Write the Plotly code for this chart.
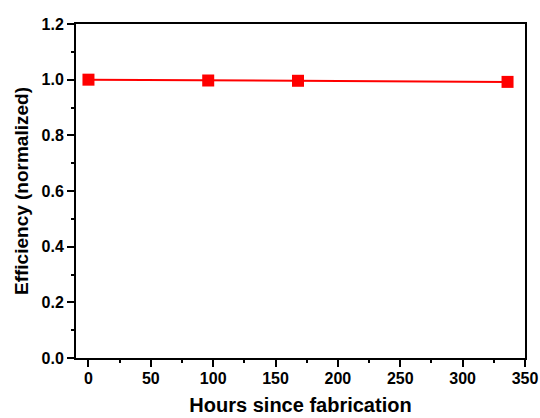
import plotly.graph_objects as go

hours = [0, 96, 168, 336]
efficiency = [1.0, 0.997, 0.996, 0.992]

fig = go.Figure()
fig.add_trace(go.Scatter(
    x=hours, y=efficiency, mode="lines+markers",
    line=dict(color="#ff0000", width=2),
    marker=dict(symbol="square", size=12, color="#ff0000"),
    showlegend=False,
))

font_family = "Liberation Sans, Arial, sans-serif"
axis_common = dict(
    showline=True, linecolor="black", linewidth=2, mirror=True,
    ticks="outside", ticklen=7, tickwidth=2, tickcolor="black",
    showgrid=False, zeroline=False, automargin=False,
    tickfont=dict(family=font_family, size=16, color="black", weight="bold"),
    minor=dict(ticks="outside", ticklen=3, tickwidth=2, tickcolor="black", showgrid=False),
)

fig.update_xaxes(
    range=[-10, 350], tickvals=[0, 50, 100, 150, 200, 250, 300, 350],
    minor_dtick=25, minor_tick0=0,
    ticklabelstandoff=-2,
    title=dict(text="<b>Hours since fabrication</b>", font=dict(family=font_family, size=20, color="black"), standoff=12),
    **axis_common,
)
fig.update_yaxes(
    range=[0, 1.2], dtick=0.2, tickformat=".1f",
    minor_dtick=0.1,
    title=dict(text="<b>Efficiency (normalized)</b>", font=dict(family=font_family, size=19, color="black"), standoff=8),
    **axis_common,
)

fig.update_layout(
    width=540, height=418,
    margin=dict(l=76, r=15, t=24, b=60),
    plot_bgcolor="white", paper_bgcolor="white",
)

# remove the default page margin so the 540x418 figure fills the window exactly
fig.write_html(
    "out.html",
    config={"displayModeBar": False},
    post_script="document.body.style.margin='0';document.body.style.overflow='hidden';",
)
